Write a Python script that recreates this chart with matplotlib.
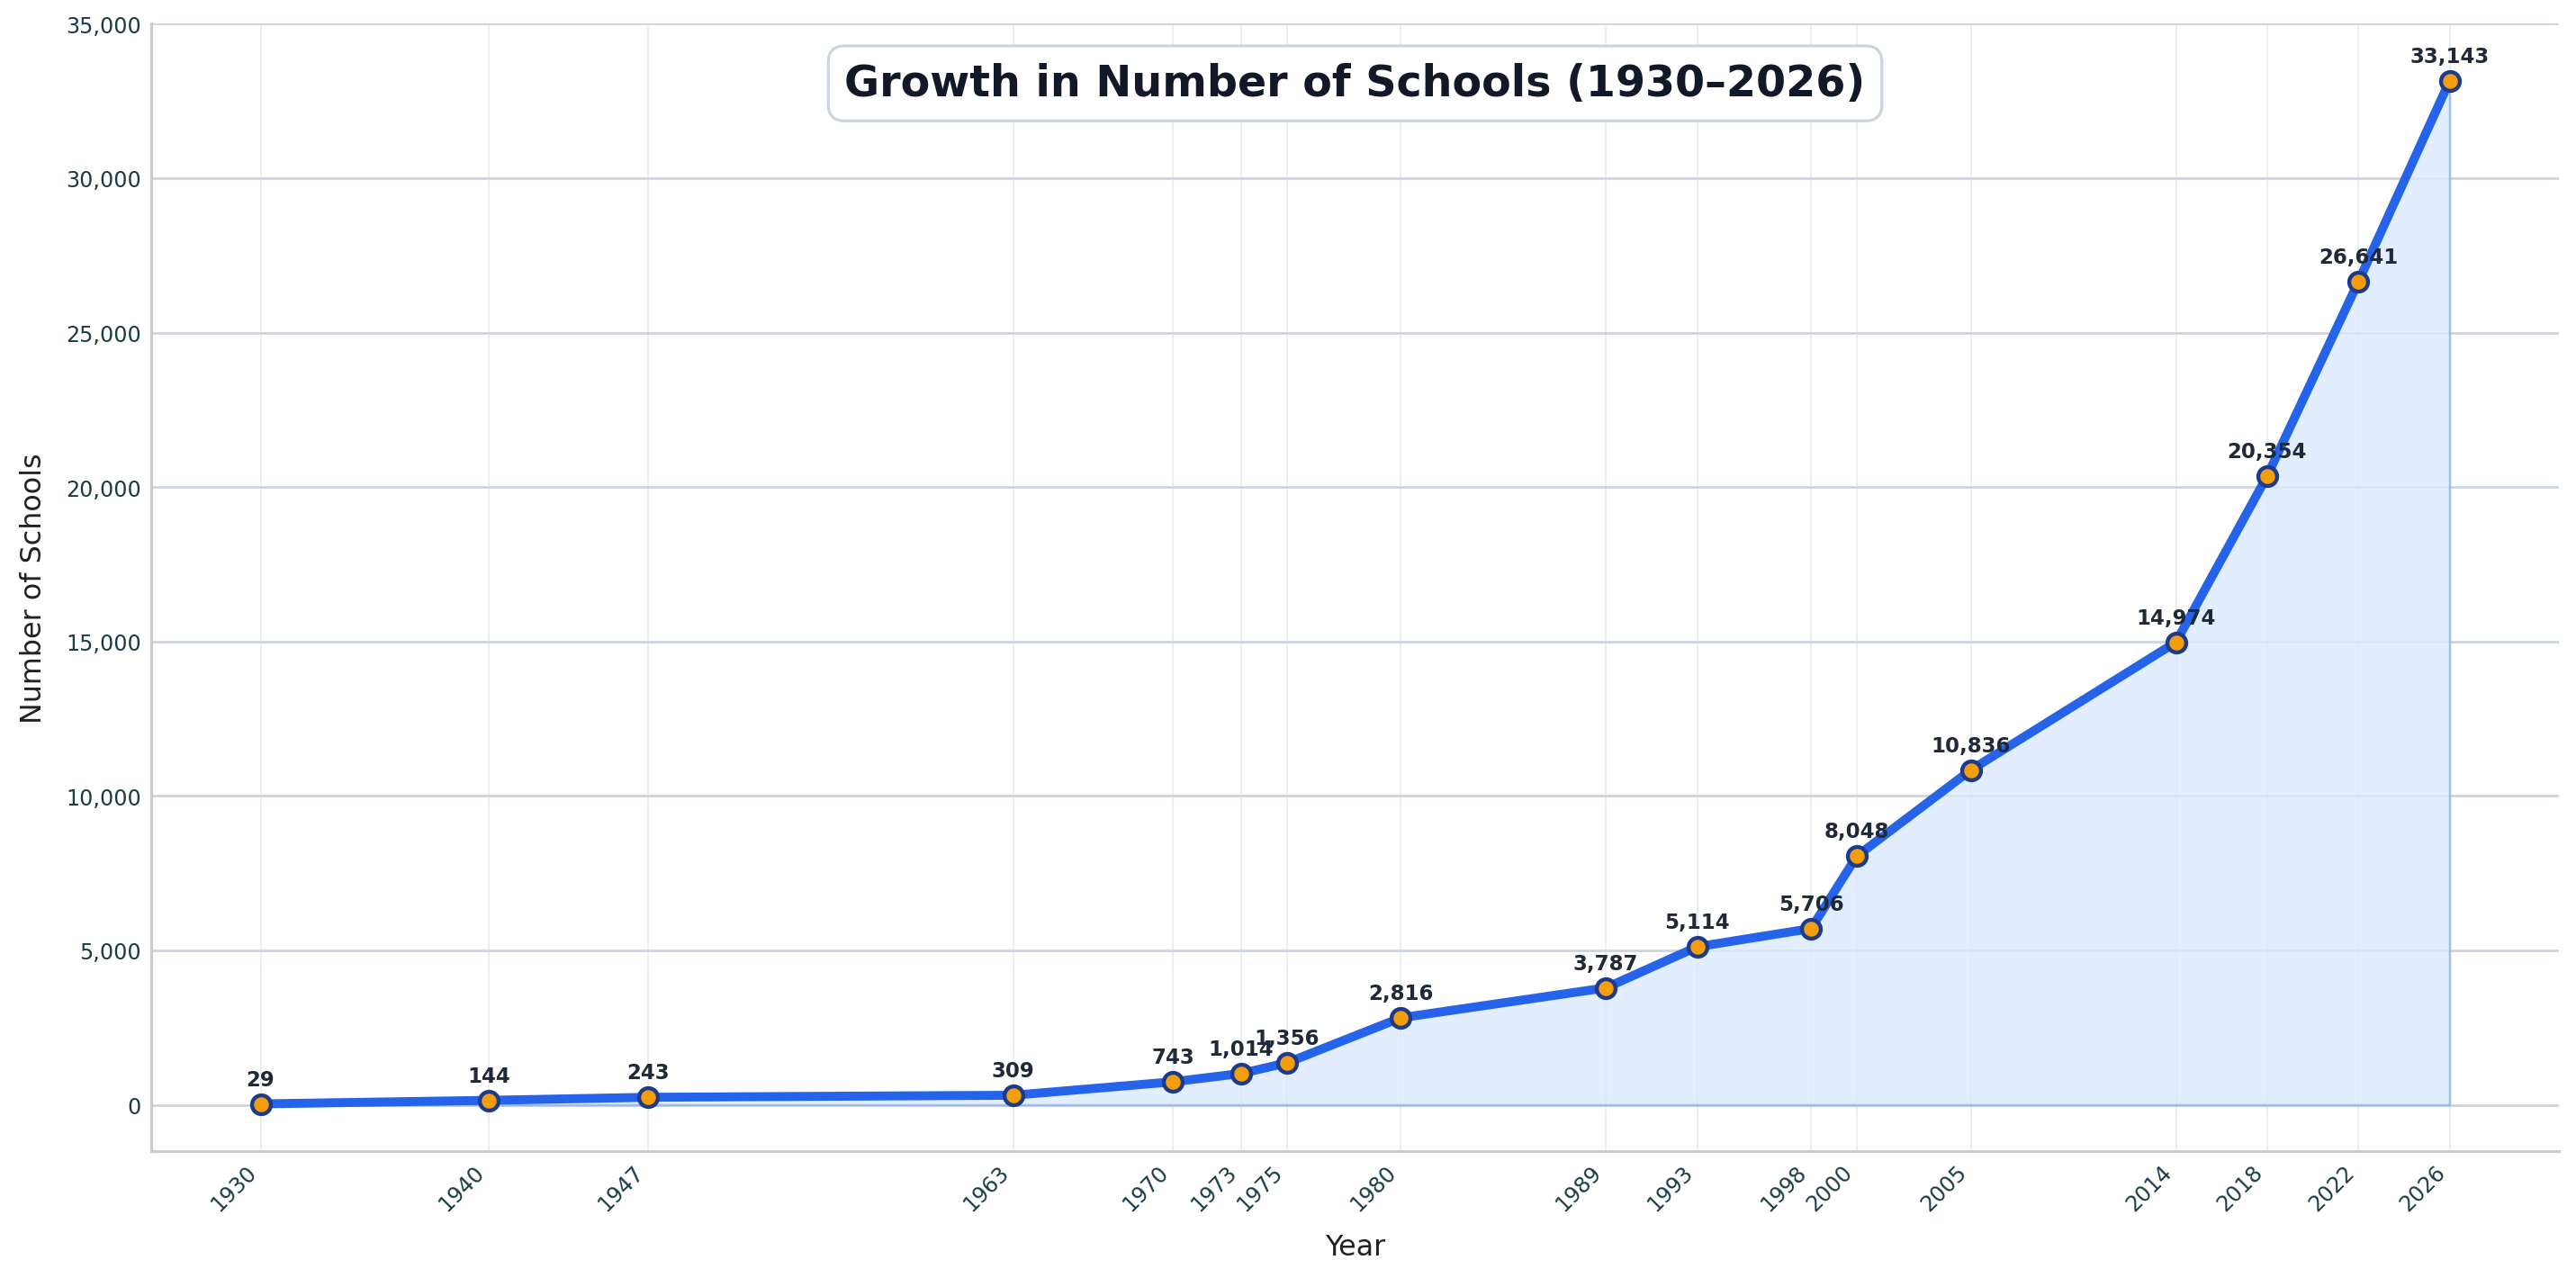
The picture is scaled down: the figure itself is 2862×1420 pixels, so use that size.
import matplotlib
matplotlib.use("Agg")
import matplotlib.pyplot as plt
from matplotlib.ticker import FuncFormatter

years = [1930, 1940, 1947, 1963, 1970, 1973, 1975, 1980, 1989, 1993, 1998, 2000,
         2005, 2014, 2018, 2022, 2026]
schools = [29, 144, 243, 309, 743, 1014, 1356, 2816, 3787, 5114, 5706, 8048,
           10836, 14974, 20354, 26641, 33143]
title = "Growth in Number of Schools (1930–2026)"

plt.rcParams['font.family'] = ['DejaVu Sans']

DPI = 143.1
fig = plt.figure(figsize=(2862 / DPI, 1421 / DPI), dpi=DPI)
ax = fig.add_axes([0.0587, 0.0992, 0.9347, 0.8816])

ax.fill_between(years, schools, 0, facecolor='#dbeafe', edgecolor='#93b4e8',
                alpha=0.8, linewidth=1.3, zorder=1)
ax.plot(years, schools, color='#2563eb', linewidth=5, marker='o',
        markersize=10.5, markerfacecolor='#f59e0b', markeredgecolor='#1e3a8a',
        markeredgewidth=2.2, zorder=3)

for x, y in zip(years, schools):
    ax.annotate(f"{y:,}", (x, y), xytext=(0, 8), textcoords='offset points',
                ha='center', va='bottom', fontsize=11.5, fontweight='bold',
                color='#1f2937', zorder=4)

ax.set_ylim(-1500, 35000)
ax.set_xlim(1925.2, 2030.8)
ax.set_xticks(years)
ax.set_xticklabels([str(y) for y in years], rotation=45, ha='right')
ax.yaxis.set_major_formatter(FuncFormatter(lambda v, p: f"{int(v):,}"))
ax.tick_params(axis='both', length=0, labelsize=12, labelcolor='#1a3c44', pad=5.5)

ax.grid(axis='y', color='#cbd5e1', linewidth=1.4, zorder=0)
ax.grid(axis='x', color='#e5e7eb', linewidth=1.0, alpha=0.7, zorder=0)
ax.set_axisbelow(True)

for s in ['top', 'right']:
    ax.spines[s].set_visible(False)
for s in ['left', 'bottom']:
    ax.spines[s].set_color('#cccccc')
    ax.spines[s].set_linewidth(1.6)

ax.set_xlabel("Year", fontsize=16, color='#222222', labelpad=10)
ax.set_ylabel("Number of Schools", fontsize=16, color='#222222', labelpad=10)

ax.text(0.5, 0.947, title, transform=ax.transAxes, ha='center', va='center',
        fontsize=24, fontweight='bold', color='#111827', zorder=5,
        bbox=dict(boxstyle='round,pad=0.38', facecolor='white',
                  edgecolor='#cbd5e1', linewidth=1.6))

fig.savefig("out.png", dpi=DPI)
